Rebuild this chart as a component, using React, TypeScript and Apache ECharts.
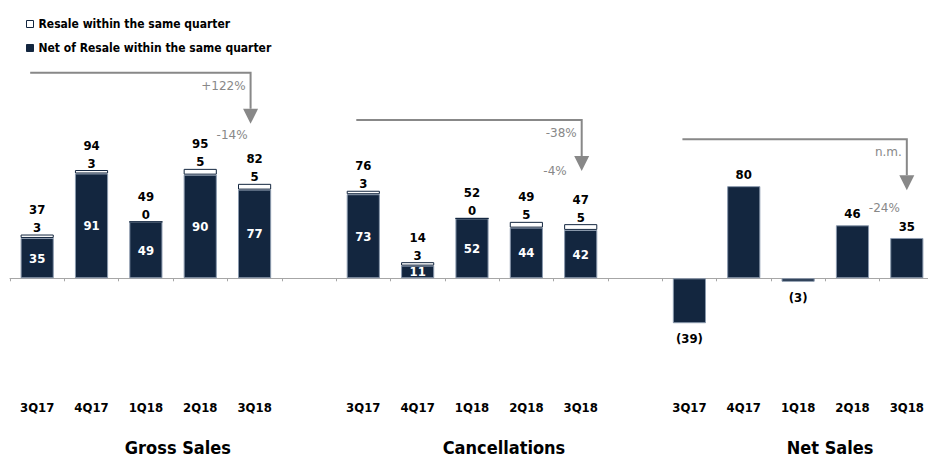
import React, { useEffect, useRef } from 'react';
import * as echarts from 'echarts';

const categories = [
  '3Q17', '4Q17', '1Q18', '2Q18', '3Q18', '',
  '3Q17', '4Q17', '1Q18', '2Q18', '3Q18', '',
  '3Q17', '4Q17', '1Q18', '2Q18', '3Q18',
];
const grossNetOfResale = [35, 91, 49, 90, 77];
const grossResale = [3, 3, 0, 5, 5];
const grossTotal = [37, 94, 49, 95, 82];
const cancelNetOfResale = [73, 11, 52, 44, 42];
const cancelResale = [3, 3, 0, 5, 5];
const cancelTotal = [76, 14, 52, 49, 47];
const netSales = [-39, 80, -3, 46, 35];
const groupNames = ['Gross Sales', 'Cancellations', 'Net Sales'];
const changeTop = ['+122%', '-38%', 'n.m.'];
const changeBottom = ['-14%', '-4%', '-24%'];

const NAVY = '#13263f';
const GRAY = '#888888';
const BOLD_FONT = "'DejaVu Sans Condensed', 'DejaVu Sans', sans-serif";
const THIN_FONT = "'DejaVu Sans', sans-serif";

const nulls = (n: number) => Array.from({ length: n }, () => null as number | null);

const netOfResaleData = [...grossNetOfResale, null, ...cancelNetOfResale, null, ...nulls(5)];
const resaleData = [...grossResale, null, ...cancelResale, null, ...nulls(5)];
const totalData = [...grossTotal, null, ...cancelTotal, null, ...nulls(5)];
const netData: any[] = [
  ...nulls(12),
  ...netSales.map((v) => ({
    value: v,
    label: { position: v < 0 ? 'bottom' : 'top', distance: v < 0 ? 9 : 5 },
  })),
];

// annotation layout (groups start at category index 0, 6, 12)
const arrowLayout = [
  { from: 0, to: 4, dx: -4, lineY: 72.7, bdx: -3, bdy: 11.5 },
  { from: 6, to: 10, dx: 1, lineY: 120, bdx: -15, bdy: 0 },
  { from: 12, to: 16, dx: 0, lineY: 139.3, bdx: -7, bdy: 18 },
];

export default function App() {
  const ref = useRef<HTMLDivElement>(null);
  useEffect(() => {
    document.body.style.margin = '0';
    const chart = echarts.init(ref.current!, null, { renderer: 'svg' });
    chart.setOption({
      animation: false,
      grid: {
        left: 10,
        width: 924,
        top: 94,
        height: 253.4,
        containLabel: false,
        outerBoundsMode: 'none',
      },
      legend: {
        orient: 'vertical',
        left: 21,
        top: 12,
        itemWidth: 7,
        itemHeight: 7,
        itemGap: 10,
        icon: 'rect',
        data: [
          { name: 'Resale within the same quarter', itemStyle: { color: '#fff', borderColor: NAVY, borderWidth: 1 } },
          { name: 'Net of Resale within the same quarter', itemStyle: { color: NAVY, borderColor: NAVY, borderWidth: 1 } },
        ],
        textStyle: {
          fontFamily: BOLD_FONT,
          fontWeight: 'bold',
          fontSize: 12,
          color: '#000',
          lineHeight: 14,
        },
      },
      xAxis: {
        type: 'category',
        data: categories,
        axisLine: { onZero: true, lineStyle: { color: '#a6a6a6', width: 1 } },
        axisTick: { show: true, length: 3, interval: 0, lineStyle: { color: '#a6a6a6' } },
        axisLabel: {
          interval: 0,
          margin: 54,
          fontFamily: BOLD_FONT,
          fontWeight: 'bold',
          fontSize: 13,
          color: '#000',
        },
      },
      yAxis: { type: 'value', min: -60, max: 160, show: false },
      series: [
        {
          name: 'Net of Resale within the same quarter',
          type: 'bar',
          stack: 'a',
          barWidth: '61%',
          data: netOfResaleData,
          itemStyle: { color: NAVY, borderColor: '#8a99ad', borderWidth: 1 },
          label: {
            show: true,
            position: 'inside',
            color: '#fff',
            fontFamily: BOLD_FONT,
            fontWeight: 'bold',
            fontSize: 13,
          },
        },
        {
          name: 'Resale within the same quarter',
          type: 'bar',
          stack: 'a',
          barWidth: '61%',
          data: resaleData,
          itemStyle: { color: '#ffffff', borderColor: NAVY, borderWidth: 1 },
          label: {
            show: true,
            position: 'top',
            distance: -2,
            color: '#000',
            fontFamily: BOLD_FONT,
            fontWeight: 'bold',
            fontSize: 13,
            lineHeight: 18,
            formatter: (p: any) => `${totalData[p.dataIndex]}\n${p.value}`,
          },
        },
        {
          name: 'Net Sales',
          type: 'bar',
          stack: 'a',
          barWidth: '61%',
          data: netData,
          itemStyle: { color: NAVY, borderColor: '#8a99ad', borderWidth: 1 },
          label: {
            show: true,
            color: '#000',
            fontFamily: BOLD_FONT,
            fontWeight: 'bold',
            fontSize: 13,
            formatter: (p: any) => (p.value < 0 ? `(${Math.abs(p.value)})` : `${p.value}`),
          },
        },
      ],
    });

    const cx = (i: number) => chart.convertToPixel({ xAxisIndex: 0 }, i) as number;
    const elements: any[] = [];
    arrowLayout.forEach((a, k) => {
      const ax = cx(a.to) + a.dx;
      const x0 = cx(a.from) - 7;
      const tip = a.lineY + 51;
      const headTop = tip - 15;
      elements.push({
        type: 'polyline',
        silent: true,
        shape: { points: [[x0, a.lineY], [ax, a.lineY], [ax, headTop]] },
        style: { stroke: GRAY, lineWidth: 2, fill: null },
      });
      elements.push({
        type: 'polygon',
        silent: true,
        shape: { points: [[ax - 7.5, headTop], [ax + 7.5, headTop], [ax, tip]] },
        style: { fill: GRAY },
      });
      elements.push({
        type: 'text',
        silent: true,
        style: {
          text: changeTop[k],
          x: ax - 5,
          y: a.lineY + 13,
          align: 'right',
          verticalAlign: 'middle',
          fill: GRAY,
          font: `12px ${THIN_FONT}`,
        },
      });
      elements.push({
        type: 'text',
        silent: true,
        style: {
          text: changeBottom[k],
          x: ax + a.bdx,
          y: tip + a.bdy,
          align: 'right',
          verticalAlign: 'middle',
          fill: GRAY,
          font: `12px ${THIN_FONT}`,
        },
      });
      elements.push({
        type: 'text',
        silent: true,
        style: {
          text: groupNames[k],
          x: cx(a.from + 2) + 32,
          y: 447,
          align: 'center',
          verticalAlign: 'middle',
          fill: '#000',
          font: `bold 18px ${BOLD_FONT}`,
        },
      });
    });
    chart.setOption({ graphic: elements });
    return () => chart.dispose();
  }, []);
  return <div ref={ref} style={{ width: 928, height: 456 }} />;
}
